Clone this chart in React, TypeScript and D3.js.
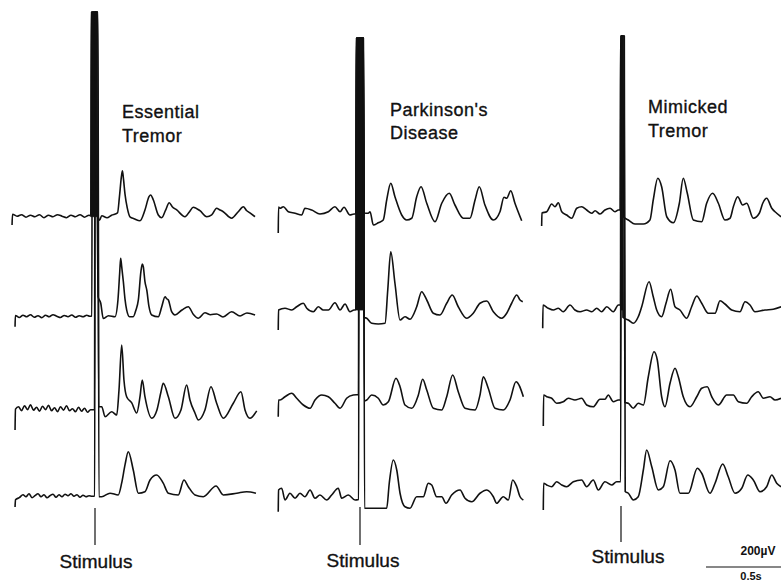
import React from "react";
import * as d3 from "d3";

type P = [number, number];
// Data: time (ms, relative to stimulus), amplitude (µV, relative to trace baseline)
// Spike: [tUp, tTopStart, tTopEnd, tDown, vTop, vStart, vEnd]

const panelTitles: string[][] = [["Essential", "Tremor"], ["Parkinson's", "Disease"], ["Mimicked", "Tremor"]];
const stimulusLabel = "Stimulus";
const scaleAmpLabel = "200µV";
const scaleTimeLabel = "0.5s";
const scaleTimeMs = 500;

const ET1: P[] = [[-553,-33],[-550,10],[-520,2],[-490,8],[-460,-2],[-430,6],[-400,0],[-370,8],[-340,-4],[-310,6],[-280,0],[-250,8],[-220,2],[-190,-4],[-160,6],[-130,0],[-100,8],[-70,-2],[-40,6],
[30,-14],[45,4],[80,-4],[110,6],[150,15],[163,80],[176,160],[183,184],[190,150],[200,90],[215,35],[235,-2],[260,-8],[300,-16],[333,27],[360,80],[371,87],[389,67],[422,7],[445,-4],[470,25],[495,56],[515,40],[545,27],[600,0],[630,20],[655,38],[700,24],[745,0],[778,7],[811,34],[830,28],[855,20],[911,-6],[955,20],[989,40],[1010,25],[1033,15],[1067,0]];
const ET2: P[] = [[-533,-40],[-531,5],[-505,-3],[-480,6],[-455,0],[-430,8],[-405,-2],[-380,4],[-355,-4],[-330,6],[-305,0],[-280,8],[-255,2],[-230,-3],[-205,5],[-180,0],[-155,7],[-130,-2],[-105,4],[-80,0],[-55,6],[-35,2],
[38,55],[55,-7],[90,4],[133,0],[153,67],[165,180],[171,234],[178,200],[189,140],[200,70],[211,27],[230,0],[255,0],[272,25],[289,67],[306,180],[315,211],[322,200],[333,140],[345,107],[360,40],[378,7],[422,0],[445,40],[467,80],[478,72],[489,67],[511,20],[533,7],[580,27],[622,40],[655,10],[689,-6],[733,16],[770,8],[811,11],[853,-1],[911,20],[967,3],[1013,15],[1067,7]];
const ET3: P[] = [[-533,-73],[-530,10],[-510,20],[-490,4],[-470,24],[-450,8],[-430,28],[-410,6],[-390,18],[-370,2],[-350,22],[-330,8],[-310,26],[-290,4],[-270,16],[-250,0],[-230,20],[-210,6],[-190,24],[-170,4],[-150,12],[-130,0],[-110,18],[-90,2],[-70,14],[-50,-2],[-30,8],
[45,20],[67,-20],[111,0],[145,-13],[160,87],[178,267],[193,127],[211,60],[245,35],[278,-5],[300,60],[315,127],[333,60],[378,-26],[413,7],[440,80],[455,114],[489,60],[533,-26],[573,7],[611,107],[633,47],[667,-6],[689,-33],[733,7],[773,100],[811,34],[855,-26],[922,34],[973,80],[1000,7],[1033,-26],[1078,3]];
const ET4: P[] = [[-533,-41],[-530,-12],[-505,-4],[-480,8],[-460,0],[-440,12],[-420,-4],[-400,4],[-380,12],[-360,0],[-340,8],[-320,-4],[-300,4],[-280,10],[-260,-2],[-240,8],[-220,0],[-200,10],[-180,4],[-160,12],[-140,2],[-120,8],[-100,-2],[-80,6],[-60,0],[-40,4],[-20,2],
[45,0],[100,14],[155,7],[178,55],[200,127],[222,180],[255,107],[289,14],[333,20],[367,67],[411,87],[455,54],[489,14],[555,7],[593,67],[622,40],[667,7],[722,0],[807,43],[855,7],[945,14],[1011,20],[1073,14]];

const PD1: P[] = [[-545,-80],[-543,24],[-533,19],[-511,25],[-478,5],[-433,-1],[-389,-8],[-367,19],[-322,12],[-267,-4],[-211,5],[-167,25],[-133,5],[-107,23],[-67,-8],[-40,-4],
[55,-1],[67,5],[89,-48],[122,-39],[155,-28],[178,52],[205,119],[233,65],[278,-8],[311,-28],[345,-21],[378,65],[407,105],[445,39],[500,-35],[545,39],[595,79],[633,32],[689,-21],[733,-21],[767,52],[795,105],[833,32],[889,-28],[933,5],[960,63],[978,59],[1005,89],[1033,39],[1078,-31]];
const PD2: P[] = [[-545,-80],[-543,0],[-500,7],[-455,0],[-422,13],[-378,27],[-355,7],[-311,-7],[-278,13],[-245,0],[-211,0],[-167,29],[-133,0],[-100,24],[-67,-7],[-40,0],
[45,-33],[78,-53],[122,-56],[167,-53],[185,80],[205,233],[233,107],[267,-40],[300,-27],[333,-37],[378,13],[411,73],[445,40],[489,-13],[533,-20],[578,27],[615,60],[655,13],[711,-33],[755,-13],[800,27],[845,36],[889,-7],[945,-33],[978,-13],[1011,27],[1045,60],[1067,40],[1085,33]];
const PD3: P[] = [[-545,-43],[-543,24],[-533,24],[-500,37],[-455,51],[-422,31],[-378,4],[-333,-9],[-300,24],[-255,44],[-211,37],[-167,11],[-133,-9],[-89,31],[-45,44],[-25,45],
[45,24],[78,44],[122,31],[155,4],[189,17],[240,111],[267,77],[300,4],[345,-9],[389,44],[418,107],[445,64],[489,-9],[545,-16],[578,37],[618,124],[655,57],[700,-9],[767,-16],[800,44],[822,117],[855,71],[900,-9],[955,-16],[1000,24],[1040,97],[1089,37]];
const PD4: P[] = [[-545,-59],[-543,28],[-522,35],[-500,-12],[-467,15],[-433,-5],[-400,15],[-367,1],[-333,28],[-300,-5],[-267,8],[-222,-12],[-189,8],[-145,35],[-122,-5],[-78,8],[-33,-12],
[45,-45],[111,-45],[178,-45],[195,55],[222,148],[245,108],[267,15],[300,-39],[333,-45],[378,1],[422,1],[455,55],[478,48],[511,1],[545,1],[573,-25],[611,8],[667,28],[700,-5],[745,-19],[800,15],[845,28],[889,1],[911,-25],[955,1],[989,-12],[1018,68],[1045,41],[1067,1],[1089,-12]];

const MT1: P[] = [[-529,-56],[-527,-4],[-495,1],[-462,32],[-440,21],[-418,37],[-395,1],[-362,-12],[-329,-25],[-295,15],[-262,21],[-229,8],[-195,-5],[-173,5],[-140,-8],[-107,8],[-73,15],[-40,1],[-18,8],
[49,-32],[93,-48],[149,-48],[193,-32],[215,48],[245,135],[271,101],[305,-19],[349,-43],[389,35],[415,135],[442,75],[482,-32],[538,-39],[571,35],[611,75],[649,35],[693,-32],[727,-25],[749,21],[778,61],[811,28],[838,35],[882,-25],[922,-5],[945,35],[971,55],[1005,15],[1038,-5],[1067,-19]];
const MT2: P[] = [[-522,-73],[-520,20],[-485,7],[-451,0],[-418,7],[-385,-7],[-340,20],[-307,0],[-273,-7],[-229,0],[-195,-7],[-162,7],[-129,-7],[-95,13],[-51,-7],[-18,20],
[49,-40],[82,-53],[115,-27],[138,13],[187,113],[215,53],[238,0],[271,-27],[300,27],[331,83],[360,13],[393,0],[438,-33],[471,13],[505,56],[538,27],[582,-13],[627,-13],[660,37],[693,24],[738,0],[793,-7],[827,33],[860,20],[893,-7],[960,0],[1015,3],[1067,13]];
const MT3: P[] = [[-518,-104],[-516,20],[-495,13],[-462,7],[-429,-13],[-385,-7],[-351,7],[-307,0],[-262,7],[-229,-20],[-185,-27],[-140,3],[-107,3],[-85,20],[-51,-7],[-18,0],
[49,-13],[82,-33],[115,-13],[149,-20],[182,93],[220,193],[242,160],[271,13],[293,-27],[327,67],[360,127],[382,93],[415,13],[460,-27],[505,13],[538,47],[575,53],[605,13],[649,-20],[705,20],[749,20],[782,-7],[838,-13],[871,13],[915,33],[949,7],[993,13],[1027,0],[1067,7]];
const MT4: P[] = [[-518,-104],[-516,3],[-495,-4],[-462,-11],[-429,9],[-395,-4],[-362,-11],[-318,9],[-262,16],[-229,-11],[-185,16],[-151,-24],[-107,9],[-62,-4],[-29,9],
[49,-37],[82,-64],[115,-51],[149,56],[171,136],[205,69],[249,-24],[282,-11],[327,93],[360,56],[393,-37],[449,-37],[509,63],[538,43],[593,-37],[627,3],[678,80],[715,29],[760,-37],[805,-17],[845,36],[882,16],[927,-31],[971,-11],[1005,36],[1038,3],[1067,-11]];

const etSpikes: number[][] = [[-28,-25,8,14,819,4,60],[-21,-18,4,20,1219,3,80],[-3,0,18,24,1599,8,20],[-2,1,20,26,1939,3,0]];
const pdSpikes: number[][] = [[-28,-25,22,28,700,-4,0],[-28,-24,22,28,1088,0,-30],[-10,-7,22,28,1472,45,20],[-9,-6,24,30,1836,-10,-45]];
const mtSpikes: number[][] = [[-6,-3,12,18,704,8,-20],[-3,-1,10,14,1096,20,-30],[-3,0,20,26,1456,0,-10],[-2,1,22,28,1792,9,-30]];

const etTraces = [ET1, ET2, ET3, ET4];
const pdTraces = [PD1, PD2, PD3, PD4];
const mtTraces = [MT1, MT2, MT3, MT4];
const spikeFilled = [[true, false, false, false], [true, true, false, false], [false, true, false, false]];

// Layout (pixels)
const W = 781, H = 582;
const stimX = [95, 360, 621];
const baselines = [[216.7, 316.7, 411.7, 496.7], [213, 310, 406, 497], [212, 310, 400, 484]];
const titlePos = [[122, 118, 141.7], [390, 116, 139.3], [648, 113.3, 137.3]];
const tickY = [[508, 545], [507, 545], [506, 542]];
const stimLabelPos = [[96, 568], [363, 566.7], [628, 562.7]];
const pxPerMs = 0.15;
const pxPerUV = 0.25;
const FONT = "'Liberation Sans', Arial, Helvetica, sans-serif";
const INK = "#111";

const panels = [
  { traces: etTraces, spikes: etSpikes },
  { traces: pdTraces, spikes: pdSpikes },
  { traces: mtTraces, spikes: mtSpikes },
];

function spikePoints(s: number[]): P[] {
  const [tUp, t1, t2, tDown, vTop, vStart, vEnd] = s;
  return [[tUp, vStart], [t1, vTop], [t2, vTop], [tDown, vEnd]];
}

function Trace({ data, spike, filled, x, y }: any) {
  const sp = spikePoints(spike);
  const pts: P[] = [...data, ...sp].sort((a, b) => a[0] - b[0]);
  const line = d3.line<P>().x((d) => x(d[0])).y((d) => y(d[1])).curve(d3.curveMonotoneX);
  let fillPath: string | null = null;
  if (filled) {
    const area = d3.area<P>().x((d) => x(d[0])).y0(y(0)).y1((d) => y(d[1])).curve(d3.curveLinear);
    fillPath = area(sp);
  }
  return (
    <g>
      {fillPath && <path d={fillPath} fill={INK} stroke={INK} strokeWidth={0.8} />}
      <path d={line(pts) || ""} fill="none" stroke={INK} strokeWidth={1.6} strokeLinejoin="round" />
    </g>
  );
}

const textStyle = { fontFamily: FONT, fill: INK, stroke: INK, strokeWidth: 0.35 } as const;

export default function App() {
  const scaleX0 = W - scaleTimeMs * pxPerMs;
  return (
    <div style={{ position: "fixed", left: 0, top: 0 }}>
      <svg width={W} height={H} viewBox={`0 0 ${W} ${H}`} style={{ display: "block", background: "#fff" }}>
        <rect width={W} height={H} fill="#fff" />
        {panels.map((p, pi) => {
          const sx = stimX[pi];
          const x = d3.scaleLinear().domain([0, 1000]).range([sx, sx + 1000 * pxPerMs]);
          return (
            <g key={pi}>
              {p.traces.map((tr, ri) => {
                const b = baselines[pi][ri];
                const y = d3.scaleLinear().domain([0, 200]).range([b, b - 200 * pxPerUV]);
                return <Trace key={ri} data={tr} spike={p.spikes[ri]} filled={spikeFilled[pi][ri]} x={x} y={y} />;
              })}
              <line x1={x(0)} x2={x(0)} y1={tickY[pi][0]} y2={tickY[pi][1]} stroke={INK} strokeWidth={1.2} />
              <text x={titlePos[pi][0]} y={titlePos[pi][1]} {...textStyle} fontSize={18} letterSpacing={0.5}>{panelTitles[pi][0]}</text>
              <text x={titlePos[pi][0]} y={titlePos[pi][2]} {...textStyle} fontSize={18} letterSpacing={0.5}>{panelTitles[pi][1]}</text>
              <text x={stimLabelPos[pi][0]} y={stimLabelPos[pi][1]} textAnchor="middle" {...textStyle} fontSize={19}>{stimulusLabel}</text>
            </g>
          );
        })}
        <text x={758} y={555} textAnchor="middle" fontFamily={FONT} fontSize={12} fontWeight="bold" fill={INK}>{scaleAmpLabel}</text>
        <line x1={scaleX0} x2={W} y1={567} y2={567} stroke={INK} strokeWidth={1.2} />
        <text x={751} y={580} textAnchor="middle" fontFamily={FONT} fontSize={11} fontWeight="bold" fill={INK}>{scaleTimeLabel}</text>
      </svg>
    </div>
  );
}
